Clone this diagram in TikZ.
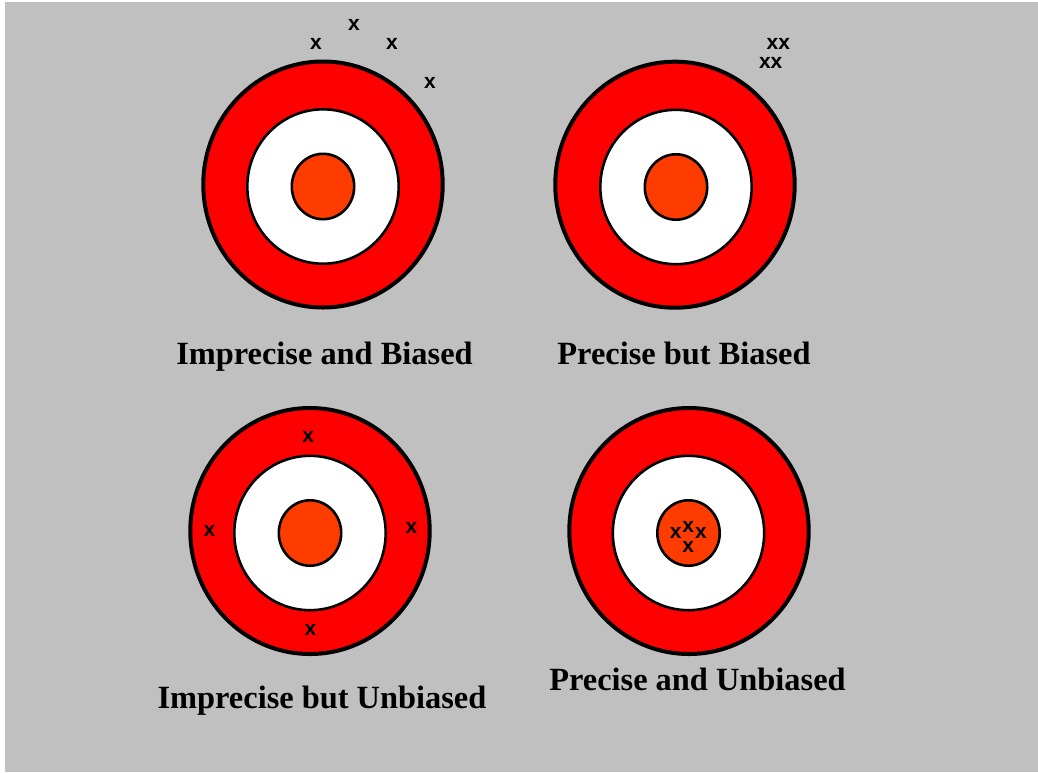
\documentclass[tikz,border=0pt]{standalone}
\usepackage{fontspec}
\setmainfont{Liberation Serif}
\newfontfamily\markfont{Liberation Sans}
\definecolor{bggray}{HTML}{C0C0C0}
\definecolor{ringred}{HTML}{FF0000}
\definecolor{bullorange}{HTML}{FF3C00}
\begin{document}
\begin{tikzpicture}[x=1pt,y=-1pt,
  outerring/.style={draw=black,line width=4pt,fill=ringred},
  whitering/.style={draw=black,line width=2.6pt,fill=white},
  bull/.style={draw=black,line width=2.6pt,fill=bullorange},
  hit/.style={inner sep=0pt,font=\markfont\bfseries\fontsize{21}{21}\selectfont},
  caption/.style={inner sep=0pt,anchor=base,font=\bfseries\fontsize{32.4}{36}\selectfont}]
\useasboundingbox (0,0) rectangle (1038,772);
\fill[white] (0,0) rectangle (1038,772);
\fill[bggray] (5,2) rectangle (1038,772);
% targets
\foreach \ox/\oy/\ix/\iy in {323/184.5/323/186.5, 675/184.7/676/187, 310/531/310/533, 689/531/688.5/533}{
  \draw[outerring] (\ox,\oy) ellipse [x radius=119.7pt, y radius=123pt];
  \draw[whitering] (\ix,\iy) ellipse [x radius=75.7pt, y radius=77.2pt];
  \draw[bull] (\ix,\iy) ellipse [x radius=31.2pt, y radius=32.7pt];
}
% hits: imprecise and biased
\node[hit] (h1) at (316,44) {x};
\node[hit] (h2) at (354,24.5) {x};
\node[hit] (h3) at (392,43.5) {x};
\node[hit] (h4) at (430,82.5) {x};
% precise but biased
\node[hit] (h5) at (778.3,43.5) {xx};
\node[hit] (h6) at (770.7,63) {xx};
% imprecise but unbiased
\node[hit] (h7) at (308.3,436.5) {x};
\node[hit] (h8) at (209.5,530.5) {x};
\node[hit] (h9) at (411.5,527.5) {x};
\node[hit] (h10) at (310.5,629.5) {x};
% precise and unbiased
\node[hit] (h11) at (675.7,532.5) {x};
\node[hit] (h12) at (688.3,526.5) {x};
\node[hit] (h13) at (701,532.5) {x};
\node[hit] (h14) at (688.3,547) {x};
% captions
\node[caption] (c1) at (324.5,364) {Imprecise and Biased};
\node[caption] (c2) at (684,364) {Precise but Biased};
\node[caption] (c3) at (322,708) {Imprecise but Unbiased};
\node[caption] (c4) at (697.5,690) {Precise and Unbiased};
\end{tikzpicture}
\end{document}
